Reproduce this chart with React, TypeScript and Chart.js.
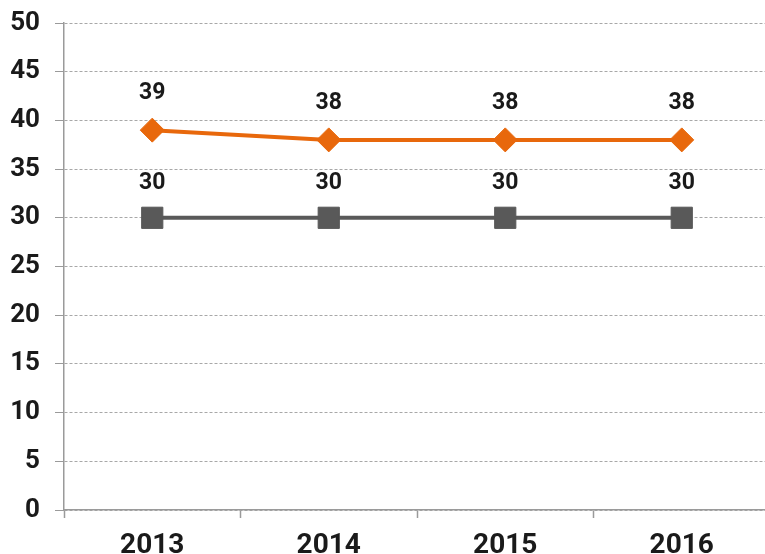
import React, { useEffect, useRef } from "react";
import { Chart, registerables } from "chart.js";

Chart.register(...registerables);

const categories = ["2013", "2014", "2015", "2016"];
const orangeValues = [39, 38, 38, 38];
const grayValues = [30, 30, 30, 30];
const yMin = 0;
const yMax = 50;
const yStep = 5;

const FONT = "Roboto, 'Liberation Sans', Arial, sans-serif";

const labelPlugin = {
  id: "pointLabels",
  afterDatasetsDraw(chart: any) {
    const ctx = chart.ctx;
    ctx.save();
    ctx.font = `bold 23px ${FONT}`;
    ctx.fillStyle = "#1a1a1a";
    ctx.textAlign = "center";
    ctx.textBaseline = "middle";
    chart.data.datasets.forEach((ds: any, i: number) => {
      const meta = chart.getDatasetMeta(i);
      const off = ds.labelOffset ?? 36;
      meta.data.forEach((pt: any, j: number) => {
        ctx.fillText(String(ds.data[j]), pt.x, pt.y - off);
      });
    });
    ctx.restore();
  },
};

export default function App() {
  const ref = useRef<HTMLCanvasElement>(null);
  useEffect(() => {
    document.body.style.margin = "0";
    document.body.style.overflow = "hidden";
    const chart = new Chart(ref.current!, {
      type: "line",
      data: {
        labels: categories,
        datasets: [
          {
            label: "Gray",
            data: grayValues,
            borderColor: "#595959",
            backgroundColor: "#595959",
            borderWidth: 4,
            pointStyle: "rect",
            pointRadius: 15,
            pointHoverRadius: 15,
            pointBorderWidth: 1,
            pointBorderColor: "#595959",
            labelOffset: 35,
          } as any,
          {
            label: "Orange",
            data: orangeValues,
            borderColor: "#E8680C",
            backgroundColor: "#E8680C",
            borderWidth: 4,
            pointStyle: "rectRot",
            pointRadius: 12,
            pointHoverRadius: 12,
            pointBorderWidth: 1,
            pointBorderColor: "#E8680C",
            labelOffset: 37,
          } as any,
        ],
      },
      options: {
        responsive: false,
        animation: false,
        events: [],
        layout: { padding: { top: 23, right: 8, left: 0, bottom: 0 } },
        plugins: { legend: { display: false }, tooltip: { enabled: false } },
        scales: {
          x: {
            offset: true,
            grid: {
              offset: true,
              drawOnChartArea: false,
              drawTicks: true,
              tickLength: 8,
              tickColor: "#9a9a9a",
              tickWidth: 1.5,
            },
            border: { display: true, color: "#9a9a9a", width: 1.5 },
            ticks: {
              color: "#1a1a1a",
              font: { family: FONT, size: 28, weight: "bold" },
              padding: 11,
              maxRotation: 0,
            },
            afterFit: (s: any) => {
              s.height = 44;
              s.paddingLeft = 0;
              s.paddingRight = 0;
            },
          },
          y: {
            min: yMin,
            max: yMax,
            ticks: {
              stepSize: yStep,
              color: "#1a1a1a",
              font: { family: FONT, size: 26, weight: "bold" },
              padding: 15,
            },
            grid: {
              color: "#a8a8a8",
              lineWidth: 1,
              drawTicks: true,
              tickLength: 9,
              tickColor: "#9a9a9a",
              tickBorderDash: [],
            },
            border: { display: true, color: "#9a9a9a", width: 1.5, dash: [3, 2] },
            afterFit: (s: any) => {
              s.width = 64;
              s.paddingTop = 0;
              s.paddingBottom = 0;
            },
          },
        },
      } as any,
      plugins: [labelPlugin],
    });
    return () => chart.destroy();
  }, []);
  return (
    <div
      style={{
        position: "fixed",
        left: 0,
        top: 0,
        width: 765,
        height: 554,
        overflow: "hidden",
        background: "#fff",
      }}
    >
      <canvas ref={ref} width={786} height={554} style={{ display: "block" }} />
    </div>
  );
}
